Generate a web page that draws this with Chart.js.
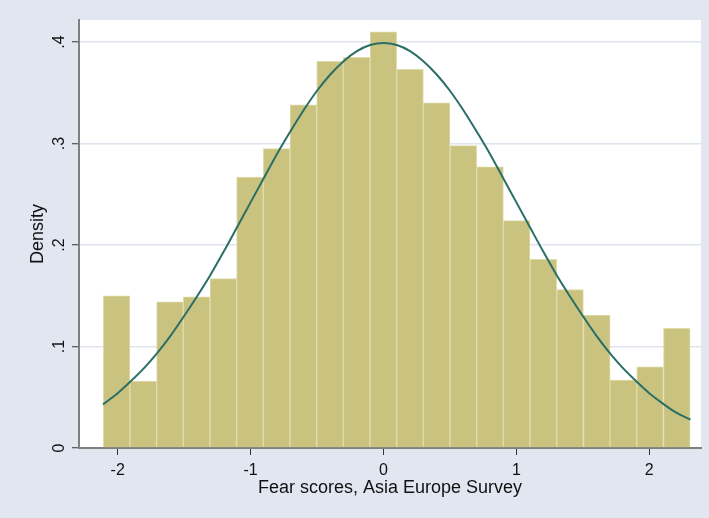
<!DOCTYPE html>
<html>
<head>
<meta charset="utf-8">
<title>Fear scores histogram</title>
<script src="https://cdn.jsdelivr.net/npm/chart.js@4.4.1/dist/chart.umd.min.js"></script>
<style>
  body { margin: 0; background: #e1e6f0; }
  #histChart { display: block; }
</style>
</head>
<body>
<canvas id="histChart" width="709" height="518"></canvas>
<script>
    // Chart Data

    var binCenters = [-2.008, -1.807, -1.607, -1.406, -1.205, -1.005, -0.804, -0.603, -0.402, -0.202, -0.001,
                      0.200, 0.400, 0.601, 0.802, 1.002, 1.203, 1.404, 1.605, 1.805, 2.006, 2.207];
    var densities = [0.150, 0.066, 0.144, 0.149, 0.167, 0.267, 0.295, 0.338, 0.381, 0.385, 0.410,
                     0.373, 0.340, 0.298, 0.277, 0.224, 0.186, 0.156, 0.131, 0.067, 0.080, 0.118];

    // normal density curve
    var curveX = [-2.11, -2.0, -1.9, -1.8, -1.7, -1.6, -1.5, -1.4, -1.3, -1.2, -1.1, -1.0, -0.9, -0.8, -0.7, -0.6,
                  -0.5, -0.4, -0.3, -0.2, -0.1, 0.0, 0.1, 0.2, 0.3, 0.4, 0.5, 0.6, 0.7, 0.8, 0.9, 1.0,
                  1.1, 1.2, 1.3, 1.4, 1.5, 1.6, 1.7, 1.8, 1.9, 2.0, 2.1, 2.2, 2.31];
    var curveY = [0.043, 0.054, 0.066, 0.079, 0.094, 0.111, 0.130, 0.150, 0.171, 0.194, 0.218, 0.242, 0.266, 0.290, 0.312, 0.333,
                  0.352, 0.368, 0.381, 0.391, 0.397, 0.399, 0.397, 0.391, 0.381, 0.368, 0.352, 0.333, 0.312, 0.290, 0.266, 0.242,
                  0.218, 0.194, 0.171, 0.150, 0.130, 0.111, 0.094, 0.079, 0.066, 0.054, 0.044, 0.035, 0.028];

    var xTicks = [-2, -1, 0, 1, 2];
    var xTickLabels = ["-2", "-1", "0", "1", "2"];
    var yTicks = [0, 0.1, 0.2, 0.3, 0.4];
    var yTickLabels = ["0", ".1", ".2", ".3", ".4"];

    var xTitle = "Fear scores, Asia Europe Survey";
    var yTitle = "Density";

    var fontFamily = "'Liberation Sans', Arial, sans-serif";

    // Plot region background (outer bluish gray, inner white)

    var plotBackground = {
        id: 'plotBackground',
        beforeDraw: function(chart) {
            var ctx = chart.ctx;
            var a = chart.chartArea;
            ctx.save();
            ctx.fillStyle = '#e1e6f0';
            ctx.fillRect(0, 0, chart.width, chart.height);
            ctx.fillStyle = '#ffffff';
            ctx.fillRect(a.left, a.top, a.right - a.left, a.bottom - a.top);
            ctx.restore();
        }
    };

    var barData = binCenters.map(function(x, i) { return { x: x, y: densities[i] }; });
    var lineData = curveX.map(function(x, i) { return { x: x, y: curveY[i] }; });

    // Generate Chart

    var histChart = new Chart(document.getElementById('histChart').getContext('2d'), {
        type: 'bar',
        data: {
            datasets: [
                {
                    type: 'line',
                    label: 'Normal density',
                    data: lineData,
                    borderColor: '#2a6f66',
                    borderWidth: 2,
                    pointRadius: 0,
                    cubicInterpolationMode: 'monotone',
                    fill: false,
                    order: 0
                },
                {
                    type: 'bar',
                    label: 'Density',
                    data: barData,
                    backgroundColor: '#cac27f',
                    borderColor: '#e0dba8',
                    borderWidth: 1,
                    barPercentage: 1,
                    categoryPercentage: 1,
                    order: 1
                }
            ]
        },
        options: {
            responsive: false,
            animation: false,
            layout: { padding: { top: 20, right: 8, left: 0, bottom: 0 } },
            plugins: {
                legend: { display: false },
                tooltip: { enabled: false }
            },
            scales: {
                x: {
                    type: 'linear',
                    min: -2.291,
                    max: 2.389,
                    offset: false,
                    afterFit: function(scale) { scale.height = 70; },
                    afterBuildTicks: function(scale) {
                        scale.ticks = xTicks.map(function(v) { return { value: v }; });
                    },
                    border: { display: true, color: '#808080', width: 2 },
                    grid: { offset: false, drawOnChartArea: false, drawTicks: true, tickLength: 7, tickColor: '#333333', tickWidth: 1 },
                    ticks: {
                        color: '#111111',
                        padding: 6,
                        maxRotation: 0,
                        font: { family: fontFamily, size: 16 },
                        callback: function(value) {
                            var i = xTicks.indexOf(value);
                            return i < 0 ? '' : xTickLabels[i];
                        }
                    },
                    title: {
                        display: true,
                        text: xTitle,
                        color: '#111111',
                        font: { family: fontFamily, size: 18 },
                        padding: { top: 0, bottom: 19 }
                    }
                },
                y: {
                    type: 'linear',
                    min: 0,
                    max: 0.4217,
                    afterFit: function(scale) { scale.width = 79; },
                    afterBuildTicks: function(scale) {
                        scale.ticks = yTicks.map(function(v) { return { value: v }; });
                    },
                    border: { display: true, color: '#808080', width: 2 },
                    grid: { offset: false, color: '#dfe4ee', lineWidth: 1.5, drawTicks: true, tickLength: 7, tickColor: '#333333', tickWidth: 1 },
                    ticks: {
                        color: '#111111',
                        padding: 6,
                        minRotation: 90,
                        maxRotation: 90,
                        crossAlign: 'center',
                        font: { family: fontFamily, size: 16 },
                        callback: function(value) {
                            var i = yTicks.indexOf(value);
                            return i < 0 ? '' : yTickLabels[i];
                        }
                    },
                    title: {
                        display: true,
                        text: yTitle,
                        color: '#111111',
                        font: { family: fontFamily, size: 18 },
                        padding: { top: 27, bottom: 0 }
                    }
                }
            }
        },
        plugins: [plotBackground]
    });
</script>
</body>
</html>
